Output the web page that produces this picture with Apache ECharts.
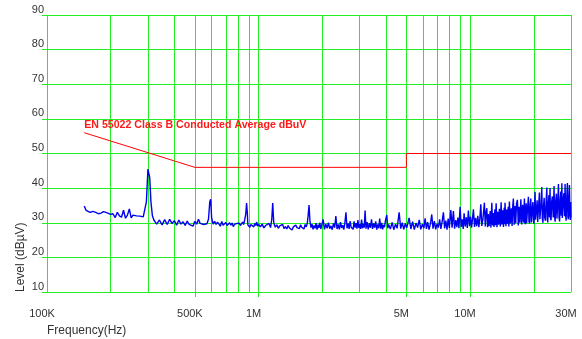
<!DOCTYPE html>
<html>
<head>
<meta charset="utf-8">
<script src="https://cdn.jsdelivr.net/npm/echarts@6/dist/echarts.min.js"></script>
<style>
    html, body { margin: 0; padding: 0; background: #fff; }
    #chart { width: 582px; height: 339px; }
</style>
</head>
<body>
<div id="chart"></div>
<script>
// frequencies in MHz, levels in dBuV
const gridFreqs = [0.1, 0.2, 0.3, 0.4, 0.5, 0.6, 0.7, 0.8, 0.9, 1, 2, 3, 4, 5, 6, 7, 8, 9, 10, 20, 30];
const tickFreqs = [0.5, 1, 5, 10];
const labelFreqs = [0.1, 0.5, 1, 5, 10, 30];
const labelTexts = ['100K', '500K', '1M', '5M', '10M', '30M'];

const limitName = 'EN 55022 Class B Conducted Average dBuV';
const limitFreq = [0.15, 0.5, 5, 5, 30];
const limitLevel = [56, 46, 46, 50, 50];

// 150K - 1M
const traceLow = [
    [0.150, 34.8], [0.153, 33.6], [0.156, 33.4], [0.160, 33.0], [0.165, 33.3], [0.170, 33.0],
    [0.175, 32.6], [0.180, 32.8], [0.185, 33.2], [0.190, 33.0], [0.195, 32.7], [0.200, 32.4],
    [0.205, 32.6], [0.210, 31.5], [0.215, 33.0], [0.220, 32.0], [0.225, 31.6], [0.230, 33.6],
    [0.235, 31.3], [0.240, 32.2], [0.245, 34.0], [0.250, 31.4], [0.255, 32.2], [0.260, 31.7],
    [0.265, 32.0], [0.270, 31.6], [0.275, 31.9], [0.280, 31.5], [0.285, 31.7], [0.290, 31.8],
    [0.295, 36.0], [0.300, 45.5], [0.303, 46.0], [0.306, 43.0], [0.310, 36.0], [0.315, 32.0],
    [0.320, 30.8], [0.325, 30.2], [0.330, 29.6], [0.340, 30.8], [0.350, 29.4], [0.360, 30.9],
    [0.370, 29.5], [0.380, 31.0], [0.390, 29.8], [0.400, 30.6], [0.410, 29.3], [0.420, 30.8],
    [0.430, 29.6], [0.440, 30.3], [0.450, 29.2], [0.460, 30.5], [0.470, 29.5], [0.480, 29.8],
    [0.490, 29.0], [0.500, 30.4], [0.510, 29.6], [0.520, 31.0], [0.530, 29.8], [0.540, 30.2],
    [0.550, 29.5], [0.560, 30.0], [0.570, 29.7], [0.580, 31.0], [0.588, 36.0], [0.594, 36.8],
    [0.600, 31.5], [0.610, 29.6], [0.620, 30.4], [0.630, 29.5], [0.640, 30.2], [0.650, 29.8],
    [0.660, 29.0], [0.670, 30.4], [0.680, 29.3], [0.690, 29.8], [0.700, 30.1], [0.710, 29.2],
    [0.720, 29.6], [0.730, 30.0], [0.740, 29.3], [0.750, 29.9], [0.760, 28.9], [0.770, 29.5],
    [0.780, 29.0], [0.790, 29.8], [0.800, 29.4], [0.810, 29.9], [0.820, 29.2], [0.830, 29.6],
    [0.840, 30.2], [0.850, 29.5], [0.860, 30.8], [0.870, 32.5], [0.878, 35.7], [0.885, 33.0],
    [0.890, 29.4], [0.900, 29.0], [0.910, 28.7], [0.920, 29.5], [0.930, 29.0], [0.940, 29.6],
    [0.950, 28.8], [0.960, 29.8], [0.970, 29.2], [0.980, 30.2], [0.990, 29.0], [1.000, 29.6]
];

// 1M - 4M
const traceMid = [
    [1.02, 28.8], [1.04, 29.6], [1.06, 28.5], [1.08, 29.2], [1.10, 28.9], [1.12, 29.8],
    [1.14, 28.6], [1.155, 31.0], [1.167, 35.7], [1.18, 30.0], [1.20, 28.7], [1.22, 29.4],
    [1.24, 28.4], [1.26, 29.1], [1.28, 28.6], [1.30, 29.5], [1.32, 28.3], [1.34, 28.9],
    [1.36, 28.2], [1.38, 29.2], [1.40, 28.5], [1.42, 29.0], [1.44, 27.9], [1.46, 28.8],
    [1.48, 28.4], [1.50, 29.3], [1.52, 28.6], [1.54, 29.0], [1.56, 28.3], [1.58, 29.4],
    [1.60, 28.7], [1.62, 29.1], [1.64, 28.2], [1.66, 29.5], [1.68, 28.8], [1.70, 29.8],
    [1.715, 32.0], [1.733, 35.1], [1.75, 30.5], [1.77, 28.6], [1.79, 29.6], [1.81, 28.1],
    [1.83, 29.2], [1.85, 28.4], [1.87, 29.9], [1.89, 28.0], [1.91, 29.4], [1.93, 28.5],
    [1.95, 30.0], [1.97, 28.2], [1.99, 29.3], [2.02, 31.0], [2.05, 28.1], [2.08, 29.6],
    [2.11, 28.4], [2.14, 30.0], [2.17, 28.3], [2.20, 29.1], [2.23, 28.0], [2.26, 29.8],
    [2.29, 28.6], [2.32, 31.9], [2.35, 28.2], [2.38, 29.5], [2.41, 28.1], [2.44, 30.2],
    [2.47, 28.5], [2.50, 29.3], [2.53, 28.0], [2.56, 30.0], [2.59, 33.0], [2.62, 28.4],
    [2.65, 29.8], [2.68, 28.2], [2.71, 30.5], [2.74, 28.7], [2.77, 29.2], [2.80, 28.1],
    [2.83, 30.4], [2.86, 28.6], [2.89, 29.9], [2.92, 28.3], [2.95, 30.8], [2.98, 28.5],
    [3.01, 29.6], [3.04, 28.2], [3.07, 30.9], [3.10, 28.4], [3.13, 29.7], [3.16, 28.6],
    [3.19, 33.5], [3.22, 28.3], [3.26, 30.2], [3.30, 28.1], [3.34, 29.9], [3.38, 28.5],
    [3.42, 31.0], [3.46, 28.2], [3.50, 29.8], [3.54, 28.6], [3.58, 30.4], [3.62, 28.0],
    [3.66, 29.5], [3.70, 28.4], [3.74, 31.2], [3.78, 28.3], [3.82, 30.0], [3.86, 28.1],
    [3.90, 29.4], [3.94, 28.7], [3.98, 30.6], [4.04, 32.3], [4.08, 28.4]
];

// 4M - 18M
const traceHigh = [
    [4.12, 29.5], [4.20, 28.2], [4.28, 30.1], [4.36, 28.0], [4.44, 29.6], [4.52, 28.4],
    [4.62, 33.0], [4.70, 28.3], [4.78, 30.0], [4.86, 28.1], [4.94, 29.8], [5.02, 28.5],
    [5.15, 31.4], [5.25, 28.2], [5.35, 30.3], [5.45, 28.0], [5.55, 29.9], [5.65, 28.6],
    [5.75, 30.8], [5.85, 28.1], [5.95, 29.6], [6.05, 28.4], [6.13, 31.3], [6.22, 28.2],
    [6.30, 30.2], [6.40, 28.0], [6.50, 29.8], [6.59, 32.4], [6.68, 28.3], [6.78, 30.5],
    [6.88, 28.1], [6.98, 29.7], [7.08, 28.6], [7.18, 31.0], [7.28, 28.2], [7.38, 30.4],
    [7.48, 33.0], [7.58, 28.4], [7.68, 30.6], [7.78, 28.0], [7.88, 31.2], [7.98, 28.5],
    [8.11, 33.7], [8.22, 28.6], [8.34, 33.4], [8.45, 28.3], [8.56, 30.8], [8.66, 28.7],
    [8.76, 31.5], [8.86, 28.4], [8.97, 34.6], [9.08, 28.8], [9.18, 31.0], [9.28, 28.2],
    [9.37, 32.7], [9.48, 28.9], [9.60, 31.6], [9.70, 28.5], [9.82, 33.5], [9.94, 29.0],
    [10.05, 31.8], [10.16, 28.6], [10.26, 30.9], [10.37, 33.9], [10.50, 28.8], [10.62, 31.4],
    [10.75, 29.0], [10.88, 32.0], [11.0, 28.7], [11.12, 31.2], [11.24, 35.3], [11.36, 29.1],
    [11.50, 31.0], [11.69, 35.8], [11.80, 28.9], [11.9, 33.0], [12.0, 34.2], [12.1, 28.7],
    [12.2, 32.5], [12.3, 29.0], [12.45, 33.4], [12.55, 28.6], [12.67, 35.8], [12.78, 29.2],
    [12.88, 32.8], [12.98, 28.8], [13.1, 33.9], [13.18, 29.3], [13.28, 35.6], [13.4, 28.7],
    [13.52, 33.2], [13.64, 29.4], [13.76, 34.0], [13.9, 28.9], [14.02, 35.9], [14.14, 29.5],
    [14.26, 33.6], [14.38, 28.8], [14.5, 34.3], [14.56, 29.6], [14.63, 35.8], [14.78, 29.0],
    [14.9, 33.8], [15.02, 29.7], [15.15, 34.6], [15.25, 28.9], [15.34, 36.1], [15.5, 29.8],
    [15.66, 34.2], [15.8, 29.1], [15.92, 35.0], [16.02, 37.0], [16.16, 29.4], [16.3, 34.8],
    [16.44, 29.9], [16.58, 35.5], [16.74, 36.6], [16.9, 29.2], [17.04, 34.6], [17.2, 30.0],
    [17.38, 36.8], [17.54, 29.5], [17.72, 35.2], [17.9, 30.1]
];

// 18M - 30M
const traceTop = [
    [18.07, 37.0], [18.16, 30.2], [18.24, 29.6], [18.33, 34.1], [18.42, 35.6], [18.51, 29.9],
    [18.6, 30.2], [18.73, 34.8], [18.87, 37.5], [18.98, 30.5], [19.1, 29.8], [19.23, 35.2],
    [19.37, 37.0], [19.48, 30.1], [19.6, 30.3], [19.71, 34.5], [19.82, 36.0], [19.93, 30.6],
    [20.05, 29.7], [20.17, 35.0], [20.29, 38.9], [20.4, 30.9], [20.5, 30.4], [20.62, 34.2],
    [20.75, 36.5], [20.88, 30.2], [21.0, 29.9], [21.13, 35.8], [21.27, 38.7], [21.38, 31.0],
    [21.5, 30.5], [21.66, 35.4], [21.83, 40.3], [21.96, 31.2], [22.1, 30.0], [22.25, 34.8],
    [22.4, 37.2], [22.55, 31.4], [22.7, 30.6], [22.88, 36.0], [23.06, 40.2], [23.18, 31.0],
    [23.3, 30.1], [23.45, 35.5], [23.6, 38.0], [23.74, 31.6], [23.88, 40.0], [24.0, 31.3],
    [24.15, 30.7], [24.32, 36.2], [24.5, 37.6], [24.72, 31.5], [24.95, 40.6], [25.1, 31.8],
    [25.25, 30.3], [25.42, 36.5], [25.6, 38.4], [25.75, 31.2], [25.9, 30.8], [26.03, 37.0],
    [26.17, 41.2], [26.33, 31.6], [26.5, 30.4], [26.68, 36.8], [26.85, 39.0], [27.0, 32.0],
    [27.16, 41.4], [27.3, 31.4], [27.45, 30.9], [27.62, 37.2], [27.8, 38.6], [27.96, 31.9],
    [28.13, 41.2], [28.3, 32.2], [28.45, 30.6], [28.65, 37.5], [28.85, 41.5], [29.0, 31.8],
    [29.15, 31.0], [29.32, 37.0], [29.5, 40.9], [29.65, 32.0], [29.8, 30.8], [29.9, 36.0],
    [30.0, 31.5]
];

const green = '#22ee22';
const textColor = '#333';
const fontFamily = '"Liberation Sans", Arial, sans-serif';

const chart = echarts.init(document.getElementById('chart'), null, { renderer: 'canvas' });

// 只显示指定频点的刻度文字
function freqLabel(value) {
    for (let i = 0; i < labelFreqs.length; i++) {
        if (Math.abs(value - labelFreqs[i]) / labelFreqs[i] < 1e-6) {
            return labelTexts[i];
        }
    }
    return '';
}

const option = {
    animation: false,
    grid: { left: 47, right: 11, top: 15, bottom: 47 },
    xAxis: [
        {
            type: 'log',
            position: 'bottom',
            min: 0.1,
            max: 30,
            axisLine: { show: true, lineStyle: { color: green, width: 1 } },
            axisTick: { show: false, customValues: gridFreqs },
            splitLine: { show: true, lineStyle: { color: green, width: 1 } },
            axisLabel: {
                customValues: labelFreqs,
                formatter: freqLabel,
                color: textColor,
                fontFamily: fontFamily,
                fontSize: 11,
                margin: 16,
                padding: [0, 10, 0, 0],
                showMinLabel: true,
                showMaxLabel: true,
            },
        },
        {
            // 只用来画 500K / 1M / 5M / 10M 下方的小刻度
            type: 'log',
            position: 'bottom',
            min: 0.1,
            max: 30,
            axisLine: { show: false },
            axisTick: { show: true, customValues: tickFreqs, length: 5, lineStyle: { color: green, width: 1 } },
            splitLine: { show: false },
            axisLabel: { show: false },
        },
    ],
    yAxis: {
        type: 'value',
        min: 10,
        max: 90,
        interval: 10,
        axisLine: { show: false },
        axisTick: { show: true, length: 5, lineStyle: { color: green, width: 1 } },
        splitLine: { show: true, lineStyle: { color: green, width: 1 } },
        axisLabel: {
            color: textColor,
            fontFamily: fontFamily,
            fontSize: 11,
            margin: 3,
            verticalAlign: 'bottom',
        },
    },
    graphic: [
        {
            type: 'text',
            left: 47,
            top: 325,
            style: { text: 'Frequency(Hz)', fill: textColor, font: '12px ' + fontFamily },
        },
        {
            type: 'text',
            x: 21,
            y: 292,
            rotation: Math.PI / 2,
            style: {
                text: 'Level (dBµV)',
                fill: textColor,
                font: '12px ' + fontFamily,
                align: 'left',
                verticalAlign: 'middle',
            },
        },
    ],
    series: [
        {
            name: 'Level',
            type: 'line',
            xAxisIndex: 0,
            showSymbol: false,
            symbol: 'none',
            lineStyle: { color: '#0000f0', width: 1.4 },
            data: traceLow.concat(traceMid, traceHigh, traceTop),
            z: 3,
        },
        {
            name: limitName,
            type: 'line',
            xAxisIndex: 0,
            showSymbol: false,
            symbol: 'none',
            lineStyle: { color: '#ff0000', width: 1 },
            data: limitFreq.map((f, i) => [f, limitLevel[i]]),
            markPoint: {
                symbol: 'circle',
                symbolSize: 0,
                data: [{ coord: [limitFreq[0], limitLevel[0]] }],
                label: {
                    show: true,
                    formatter: limitName,
                    position: [0, -13],
                    color: '#ff1a1a',
                    fontWeight: 'bold',
                    fontSize: 10.6,
                    fontFamily: fontFamily,
                },
            },
            z: 4,
        },
    ],
};

chart.setOption(option);
</script>
</body>
</html>
